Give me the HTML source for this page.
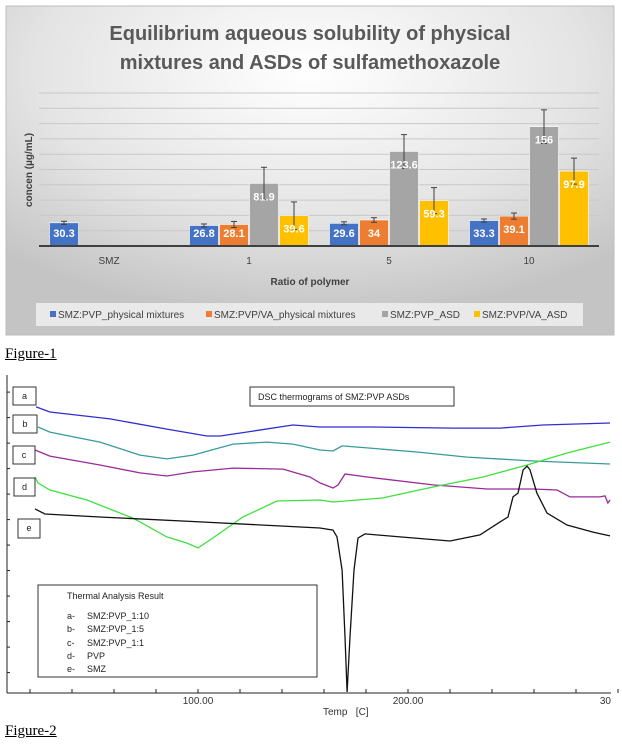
<!DOCTYPE html>
<html><head><meta charset="utf-8">
<style>
html,body{margin:0;padding:0;background:#fff;width:622px;height:746px;overflow:hidden;font-family:"Liberation Sans",sans-serif;}
svg{display:block;position:absolute;left:0;top:0}
.fig{position:absolute;left:5px;font-family:"Liberation Serif",serif;font-size:15px;text-decoration:underline;color:#000}
</style></head>
<body>
<svg id="bar" width="622" height="340">
  <defs>
    <radialGradient id="bg" cx="0.5" cy="0.2" r="0.75">
      <stop offset="0" stop-color="#ffffff"/>
      <stop offset="0.6" stop-color="#e4e4e4"/>
      <stop offset="1" stop-color="#c4c4c4"/>
    </radialGradient>
  </defs>
  <rect x="6" y="6" width="608" height="329" fill="url(#bg)" stroke="#bdbdbd"/>
  <text x="310" y="40" text-anchor="middle" font-size="20" font-weight="bold" fill="#595959">Equilibrium aqueous solubility of physical</text>
  <text x="310" y="69" text-anchor="middle" font-size="20" font-weight="bold" fill="#595959">mixtures and ASDs of sulfamethoxazole</text>
  <g id="grid"></g>
  <g id="bars"></g>
  <text transform="translate(32,170) rotate(-90)" text-anchor="middle" font-size="10" font-weight="bold" fill="#404040">concen (µg/mL)</text>
  <text x="310" y="285" text-anchor="middle" font-size="10" font-weight="bold" fill="#404040">Ratio of polymer</text>
  <rect x="36" y="303" width="547" height="23" fill="#e9e9e9"/>
  <g id="legend" font-size="10" fill="#404040"></g>
</svg>
<div class="fig" style="top:346px">Figure-1</div>

<svg id="dsc" width="622" height="746" style="pointer-events:none">
  <g id="dscAxes"></g>
  <g id="dscLines" fill="none" stroke-width="1.3"></g>
  <g font-size="9" fill="#222">
    <rect x="13" y="387" width="23" height="18" fill="#fff" stroke="#333"/>
    <text x="24.5" y="399" text-anchor="middle">a</text>
    <rect x="13" y="415" width="24" height="18" fill="#fff" stroke="#333"/>
    <text x="25" y="427" text-anchor="middle">b</text>
    <rect x="13" y="446" width="22" height="18" fill="#fff" stroke="#333"/>
    <text x="24" y="458" text-anchor="middle">c</text>
    <rect x="14" y="478" width="21" height="18" fill="#fff" stroke="#333"/>
    <text x="24.5" y="490" text-anchor="middle">d</text>
    <rect x="18" y="519" width="22" height="19" fill="#fff" stroke="#333"/>
    <text x="29" y="531" text-anchor="middle">e</text>
    <rect x="250" y="387" width="204" height="19" fill="#fff" stroke="#333"/>
    <text x="258" y="400">DSC thermograms of SMZ:PVP ASDs</text>
    <rect x="38" y="585" width="279" height="92" fill="#fff" stroke="#333"/>
    <text x="67" y="599">Thermal Analysis Result</text>
    <text x="67" y="619">a-</text><text x="87" y="619">SMZ:PVP_1:10</text>
    <text x="67" y="632">b-</text><text x="87" y="632">SMZ:PVP_1:5</text>
    <text x="67" y="646">c-</text><text x="87" y="646">SMZ:PVP_1:1</text>
    <text x="67" y="659">d-</text><text x="87" y="659">PVP</text>
    <text x="67" y="672">e-</text><text x="87" y="672">SMZ</text>
  </g>
  <text x="323" y="715" font-size="10" fill="#333">Temp &#160;&#160;[C]</text>
</svg>
<div class="fig" style="top:723px">Figure-2</div>

<script>
// ---------- Figure 1 data ----------
const categories = ["SMZ","1","5","10"];
const seriesNames = ["SMZ:PVP_physical mixtures","SMZ:PVP/VA_physical mixtures","SMZ:PVP_ASD","SMZ:PVP/VA_ASD"];
const pvpPM   = [30.3, 26.8, 29.6, 33.3];
const pvpvaPM = [null, 28.1, 34, 39.1];
const pvpASD  = [null, 81.9, 123.6, 156];
const pvpvaASD= [null, 39.6, 59.3, 97.9];
const pvpPMErr   = [2, 2, 2, 2];
const pvpvaPMErr = [null, 4, 3, 4];
const pvpASDErr  = [null, 21, 22, 22];
const pvpvaASDErr= [null, 18, 17, 17];
const yTicks = [20,40,60,80,100,120,140,160,180,200];

const NS="http://www.w3.org/2000/svg";
function mk(tag, attrs, parent){const e=document.createElementNS(NS,tag);for(const k in attrs)e.setAttribute(k,attrs[k]);parent.appendChild(e);return e;}

const plotL=39, plotR=599, base=246, pxPerUnit=0.765;
const yS=v=>base-v*pxPerUnit;
const catW=(plotR-plotL)/categories.length;
const xC=i=>plotL+catW*(i+0.5);
const barW=30;
const colors=["#4472c4","#ed7d31","#a5a5a5","#ffc000"];
const allSeries=[pvpPM,pvpvaPM,pvpASD,pvpvaASD];
const allErr=[pvpPMErr,pvpvaPMErr,pvpASDErr,pvpvaASDErr];

const grid=document.getElementById('grid');
yTicks.forEach(t=>{
  const l=mk('line',{x1:plotL,x2:plotR,y1:yS(t),y2:yS(t),stroke:"#c8c8c8","stroke-width":1},grid);
  
  
});
const bars=document.getElementById('bars');
allSeries.forEach((s,si)=>{
  s.forEach((v,ci)=>{
    if(v==null)return;
    const x=xC(ci)-2*barW+si*barW, y=yS(v);
    const r=mk('rect',{x:x+0.5,y:y,width:barW-1,height:base-y,fill:colors[si],stroke:"#fff","stroke-width":0.6},bars);
    
    
    const e=allErr[si][ci], cx=x+barW/2;
    const g=mk('g',{stroke:"#404040","stroke-width":1},bars);
    
    
    mk('line',{x1:cx,x2:cx,y1:yS(v+e),y2:yS(v-e)},g);
    mk('line',{x1:cx-3,x2:cx+3,y1:yS(v+e),y2:yS(v+e)},g);
    mk('line',{x1:cx-3,x2:cx+3,y1:yS(v-e),y2:yS(v-e)},g);
    const ly=Math.min(y+17, base-9);
    const t=mk('text',{x:cx,y:ly,"text-anchor":"middle","font-size":11,"font-weight":"bold",fill:"#fff"},bars);
    t.textContent=String(v);
    
    
  });
});
const ax=mk('line',{x1:plotL,x2:plotR,y1:base,y2:base,stroke:"#404040","stroke-width":2},bars);


categories.forEach((c,i)=>{
  const t=mk('text',{x:xC(i),y:264,"text-anchor":"middle","font-size":10,fill:"#404040"},bars);
  t.textContent=c;
  
  
});
const leg=document.getElementById('legend');
const legX=[50,206,382,474];
seriesNames.forEach((n,i)=>{
  const sq=mk('rect',{x:legX[i],y:311,width:6,height:6,fill:colors[i]},leg);
  
  
  const t=mk('text',{x:legX[i]+8,y:318},leg);
  t.textContent=n;
  
  
});

// ---------- Figure 2 data ----------
const curveATemp=[22.9,29.5,58.1,85.2,104.3,110.5,126.2,145.2,158.1,181.9,221.4,243.8,264.3,296.2];
const curveAVal =[112.2,110.2,107.5,103.5,100.8,100.8,102.7,105.1,104.3,104.3,103.9,103.9,105.1,105.9];
const curveBTemp=[23.8,29.5,53.3,72.4,85.2,97.6,116.7,132.9,145.2,158.1,164.3,168.6,180.5,204.3,228.1,259.5,296.2];
const curveBVal =[104.3,102.3,98.4,93.3,91.8,93.3,97.6,98.4,97.6,95.3,94.9,96.9,96.1,94.5,92.5,91.0,89.8];
const curveCTemp=[22.4,29.5,53.3,72.4,85.2,97.6,116.7,140.5,153.3,158.1,164.3,166.7,170,180.5,211.9,237.6,259.5,271,277.1,291.4,293.8,295.2,296.2];
const curveCVal =[95.3,92.9,89.4,86.3,85.1,86.7,88.2,87.8,84.7,82.4,80.4,81.6,85.9,84.7,81.6,80.0,80.0,79.6,76.9,76.9,77.3,74.5,75.7];
const curveDTemp=[22.4,23.8,29.5,47.1,69.0,85.2,94.8,100,107.1,121.4,137.6,158.1,164.3,188.1,211.9,235.7,256.7,275.7,296.2];
const curveDVal =[84.7,82.4,79.6,75.7,68.6,61.2,58.8,56.9,60.8,69.0,75.3,75.7,74.9,76.5,80.8,84.7,89.4,94.1,98.4];
const curveETemp=[22.4,27.1,53.3,101,158.1,164.3,166.2,168.6,170,171,172.4,174.3,176.2,179.5,196.2,220,234.3,243.8,247.6,250,252.4,254.8,256.7,258.1,261.4,266.2,275.7,288.1,296.2];
const curveEVal =[72.2,70.2,69.0,67.1,64.7,63.9,61.2,48.2,22.0,0.4,22.0,48.2,60.8,62.4,61.2,59.6,62.0,67.1,69.0,76.9,78.4,87.5,89.0,87.5,78.4,70.6,65.9,63.1,61.6];
const xTicksT=[20,40,60,80,100,120,140,160,180,200,220,240,260,280,300];
const yTicksV=[8,18,28,38,48,58,68,78,88,98,108,118];

const xT=T=>198+(T-100)*2.1;
const yV=v=>693-v*2.55;
const dAx=document.getElementById('dscAxes');
const yAxis=mk('line',{x1:7,x2:7,y1:375,y2:693,stroke:"#222","stroke-width":1},dAx);


const xAxis=mk('line',{x1:7,x2:611,y1:693,y2:693,stroke:"#222","stroke-width":1},dAx);


xTicksT.forEach(T=>{
  const tk=mk('line',{x1:xT(T),x2:xT(T),y1:689,y2:693,stroke:"#222"},dAx);
  
  
});
yTicksV.forEach(v=>{
  const tk=mk('line',{x1:7,x2:10,y1:yV(v),y2:yV(v),stroke:"#222"},dAx);
  
  
});
[[100,"100.00"],[200,"200.00"]].forEach(([T,s])=>{
  const t=mk('text',{x:xT(T),y:704,"text-anchor":"middle","font-size":10,fill:"#333"},dAx);
  t.textContent=s;
  
  
});
const t300=mk('text',{x:611,y:704,"text-anchor":"end","font-size":10,fill:"#333"},dAx);
t300.textContent="30";



const dL=document.getElementById('dscLines');
const curves=[[curveATemp,curveAVal,"#2f2fd0","curve-a"],[curveBTemp,curveBVal,"#3a9a9a","curve-b"],[curveCTemp,curveCVal,"#9a2a9a","curve-c"],[curveDTemp,curveDVal,"#3ee03e","curve-d"],[curveETemp,curveEVal,"#111111","curve-e"]];
curves.forEach(([ts,vs,col,name])=>{
  const d=ts.map((T,i)=>(i?"L":"M")+xT(T).toFixed(1)+","+yV(vs[i]).toFixed(1)).join(" ");
  const p=mk('path',{d:d,stroke:col},dL);
  
  
});
</script>
</body></html>
